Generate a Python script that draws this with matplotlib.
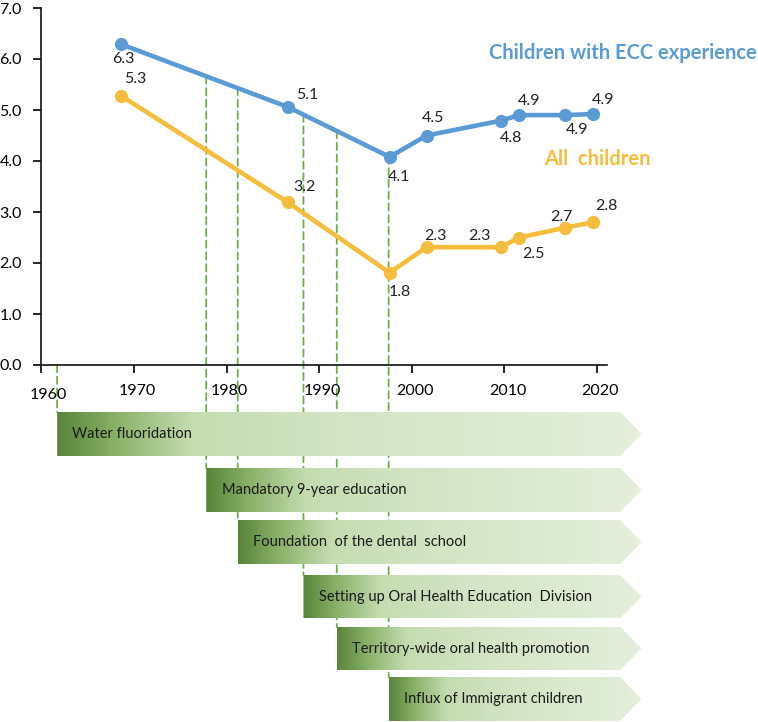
import matplotlib.pyplot as plt
import matplotlib.transforms as mtransforms
import numpy as np
from matplotlib.colors import LinearSegmentedColormap
from matplotlib.patches import Polygon, ConnectionPatch

plt.rcParams['font.family'] = ['Lato', 'DejaVu Sans']

# survey years (as plotted) and mean dmft values
years = [1968.6, 1986.6, 1997.6, 2001.6, 2009.6, 2011.6, 2016.5, 2019.6]
ecc_children = [6.29, 5.06, 4.08, 4.50, 4.79, 4.90, 4.90, 4.92]
all_children = [5.28, 3.19, 1.81, 2.31, 2.31, 2.50, 2.69, 2.80]
ecc_labels = ['6.3', '5.1', '4.1', '4.5', '4.8', '4.9', '4.9', '4.9']
all_labels = ['5.3', '3.2', '1.8', '2.3', '2.3', '2.5', '2.7', '2.8']

# timeline of events
events = ['Water fluoridation',
          'Mandatory 9-year education',
          'Foundation  of the dental  school',
          'Setting up Oral Health Education  Division',
          'Territory-wide oral health promotion',
          'Influx of Immigrant children']
event_years = [1961.7, 1977.8, 1981.2, 1988.3, 1991.9, 1997.5]

xticks = [1960, 1970, 1980, 1990, 2000, 2010, 2020]
yticks = [0, 1, 2, 3, 4, 5, 6, 7]

# styling / layout
BLUE = '#5B9BD5'
GOLD = '#F5BD3C'
GREEN = '#70AD47'
ecc_offsets = [(2, -15), (20, 12), (9, -20), (6, 17), (10, -17), (10, 14), (12, -15), (10, 14)]
all_offsets = [(14, 17), (17, 15), (10, -19), (9, 11), (-21, 11), (14, -16), (-3, 11), (13, 16)]
bar_tops = [412, 468, 520, 575, 627, 677]      # pixel rows
bar_bottoms = [456, 512, 564, 618, 670, 721]
body_end, tip_end = 2022.5, 2024.8

W, H = 758, 722
PX_PER_YEAR = 565.6 / 61.08
fig = plt.figure(figsize=(W / 100, H / 100), dpi=100)
left, width = 41.4 / W, 565.6 / W
ax = fig.add_axes([left, 357 / H, width, 357 / H])
ax.patch.set_alpha(0)
ax.set_xlim(1960, 2021.08)
ax.set_ylim(0, 7)

ax.plot(years, ecc_children, color=BLUE, lw=3.3, marker='o', ms=8.5, zorder=3, clip_on=False)
ax.plot(years, all_children, color=GOLD, lw=3.3, marker='o', ms=8.5, zorder=3, clip_on=False)
for x, y, lab, off in zip(years, ecc_children, ecc_labels, ecc_offsets):
    ax.annotate(lab, (x, y), xytext=off, textcoords='offset pixels',
                ha='center', va='center', fontsize=11.5, color='#222222')
for x, y, lab, off in zip(years, all_children, all_labels, all_offsets):
    ax.annotate(lab, (x, y), xytext=off, textcoords='offset pixels',
                ha='center', va='center', fontsize=11.5, color='#222222')

ax.set_xticks(xticks)
ax.set_yticks(yticks)
ax.set_yticklabels([f'{v:.1f}' for v in yticks])
ax.tick_params(axis='x', direction='out', length=6, width=1.2, pad=8, labelsize=11.5)
ax.tick_params(axis='y', direction='out', length=6, width=1.2, pad=8, labelsize=11.5)
for i, lab in enumerate(ax.get_xticklabels()):
    dx, dy = (7, -4) if i == 0 else (3, 0)
    lab.set_transform(lab.get_transform() + mtransforms.ScaledTranslation(dx / 100, dy / 100, fig.dpi_scale_trans))
for s in ['top', 'right']:
    ax.spines[s].set_visible(False)
for s in ['left', 'bottom']:
    ax.spines[s].set_linewidth(1.2)
    ax.spines[s].set_color('#111111')

fig.text(757 / W, 1 - 53 / H, 'Children with ECC experience', ha='right', va='center',
         fontsize=14.5, fontweight='bold', color=BLUE)
fig.text(597 / W, 1 - 159 / H, 'All  children', ha='center', va='center',
         fontsize=14.5, fontweight='bold', color=GOLD)

# timeline axes below, same x scale but reaching further right for the arrow tips
x2_end = 2026
ax2 = fig.add_axes([left, 0, (x2_end - 1960) * PX_PER_YEAR / W, 357 / H])
ax2.patch.set_alpha(0)
ax2.axis('off')
cmap = LinearSegmentedColormap.from_list('bar', [(0, '#58853A'), (0.1, '#8AB269'), (0.23, '#C5DCB1'),
                                                 (0.5, '#D3E5C5'), (1.0, '#E4EFDC')])
grad = np.linspace(0, 1, 256).reshape(1, -1)
for ev, yr, top, bot in zip(events, event_years, bar_tops, bar_bottoms):
    mid = (top + bot) / 2
    poly = Polygon([(yr, top), (body_end, top), (tip_end, mid), (body_end, bot), (yr, bot)],
                   closed=True, fc='none', ec='none')
    ax2.add_patch(poly)
    im = ax2.imshow(grad, extent=[yr, tip_end, bot, top], aspect='auto', cmap=cmap, zorder=2)
    im.set_clip_path(poly)
    ax2.text(yr + 1.65, mid, ev, ha='left', va='center', fontsize=10.5, color='#1a1a1a', zorder=3)

    ytop = 0 if yr < years[0] else np.interp(yr, years, ecc_children)
    con = ConnectionPatch((yr, ytop), (yr, top), coordsA=ax.transData, coordsB=ax2.transData,
                          color=GREEN, lw=1.3, ls=(0, (4, 2.5)), zorder=-1)
    fig.add_artist(con)

ax2.set_xlim(1960, x2_end)
ax2.set_ylim(H, 365)

fig.savefig('out.png', dpi=100)
